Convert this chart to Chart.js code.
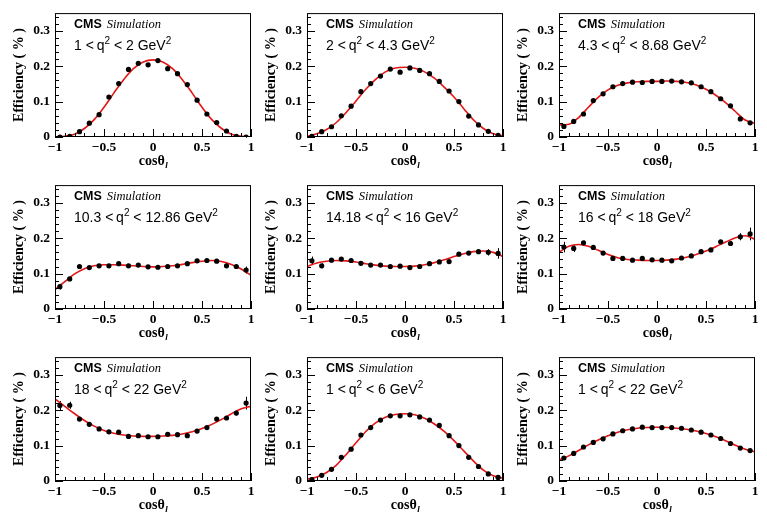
<!DOCTYPE html>
<html>
<head>
<meta charset="utf-8">
<script src="https://cdn.jsdelivr.net/npm/chart.js@4.4.1/dist/chart.umd.min.js"></script>
<style>
body { margin: 0; background: #fff; }
#wrap { position: relative; width: 767px; height: 513px; overflow: hidden; background: #fff; }
#wrap canvas { position: absolute; }
</style>
</head>
<body>
<div id="wrap"></div>
<script>
const binCenters = [-0.95, -0.85, -0.75, -0.65, -0.55, -0.45, -0.35, -0.25, -0.15, -0.05,
                    0.05, 0.15, 0.25, 0.35, 0.45, 0.55, 0.65, 0.75, 0.85, 0.95];
const fitX = [-1, -0.9, -0.8, -0.7, -0.6, -0.5, -0.4, -0.3, -0.2, -0.1, 0,
              0.1, 0.2, 0.3, 0.4, 0.5, 0.6, 0.7, 0.8, 0.9, 1];
const xTicks = [-1, -0.5, 0, 0.5, 1];
const yTicks = [0, 0.1, 0.2, 0.3];
const qLow = ["1", "2", "4.3", "10.3", "14.18", "16", "18", "1", "1"];
const qHigh = ["2", "4.3", "8.68", "12.86", "16", "18", "22", "6", "22"];

// 1 < q2 < 2
const eff1 = [0.000, 0.002, 0.015, 0.039, 0.063, 0.113, 0.151, 0.191, 0.208, 0.204, 0.216, 0.193, 0.179, 0.148, 0.104, 0.065, 0.041, 0.017, 0.002, 0.000];
const err1 = [0.002, 0.002, 0.003, 0.003, 0.003, 0.003, 0.003, 0.003, 0.003, 0.003, 0.003, 0.003, 0.003, 0.003, 0.003, 0.003, 0.003, 0.003, 0.002, 0.002];
const fit1 = [0.000, 0.002, 0.008, 0.024, 0.049, 0.084, 0.124, 0.162, 0.193, 0.212, 0.218, 0.212, 0.193, 0.162, 0.124, 0.084, 0.049, 0.024, 0.008, 0.002, 0.000];
// 2 < q2 < 4.3
const eff2 = [0.002, 0.015, 0.029, 0.060, 0.087, 0.128, 0.151, 0.172, 0.192, 0.183, 0.195, 0.188, 0.179, 0.157, 0.130, 0.100, 0.059, 0.034, 0.016, 0.005];
const err2 = [0.002, 0.002, 0.003, 0.003, 0.003, 0.003, 0.003, 0.003, 0.003, 0.003, 0.003, 0.003, 0.003, 0.003, 0.003, 0.003, 0.003, 0.003, 0.002, 0.002];
const fit2 = [0.002, 0.009, 0.021, 0.041, 0.069, 0.102, 0.135, 0.163, 0.184, 0.195, 0.197, 0.194, 0.184, 0.166, 0.141, 0.113, 0.080, 0.048, 0.024, 0.009, 0.003];
// 4.3 < q2 < 8.68
const eff3 = [0.030, 0.044, 0.065, 0.103, 0.122, 0.142, 0.151, 0.155, 0.154, 0.157, 0.157, 0.158, 0.156, 0.153, 0.142, 0.128, 0.108, 0.088, 0.051, 0.040];
const err3 = [0.003, 0.003, 0.003, 0.003, 0.003, 0.003, 0.003, 0.003, 0.003, 0.003, 0.003, 0.003, 0.003, 0.003, 0.003, 0.003, 0.003, 0.003, 0.003, 0.003];
const fit3 = [0.034, 0.036, 0.055, 0.084, 0.112, 0.133, 0.146, 0.153, 0.156, 0.157, 0.157, 0.158, 0.157, 0.154, 0.147, 0.135, 0.118, 0.097, 0.072, 0.048, 0.038];
// 10.3 < q2 < 12.86
const eff4 = [0.063, 0.085, 0.120, 0.117, 0.122, 0.122, 0.128, 0.122, 0.124, 0.119, 0.118, 0.120, 0.122, 0.128, 0.136, 0.137, 0.135, 0.122, 0.120, 0.110];
const err4 = [0.008, 0.004, 0.003, 0.003, 0.003, 0.003, 0.003, 0.003, 0.003, 0.003, 0.003, 0.003, 0.003, 0.003, 0.003, 0.003, 0.003, 0.004, 0.005, 0.010];
const fit4 = [0.055, 0.077, 0.099, 0.114, 0.122, 0.125, 0.125, 0.124, 0.122, 0.120, 0.119, 0.120, 0.122, 0.126, 0.131, 0.135, 0.137, 0.134, 0.126, 0.113, 0.095];
// 14.18 < q2 < 16
const eff5 = [0.136, 0.122, 0.138, 0.141, 0.137, 0.129, 0.124, 0.124, 0.120, 0.121, 0.117, 0.120, 0.128, 0.133, 0.134, 0.155, 0.158, 0.162, 0.160, 0.157];
const err5 = [0.012, 0.007, 0.004, 0.004, 0.003, 0.003, 0.003, 0.003, 0.003, 0.003, 0.003, 0.003, 0.003, 0.003, 0.004, 0.004, 0.004, 0.005, 0.009, 0.015];
const fit5 = [0.120, 0.130, 0.135, 0.137, 0.136, 0.133, 0.128, 0.124, 0.121, 0.120, 0.120, 0.121, 0.125, 0.131, 0.139, 0.148, 0.156, 0.162, 0.164, 0.160, 0.148];
// 16 < q2 < 18
const eff6 = [0.175, 0.171, 0.187, 0.174, 0.158, 0.143, 0.143, 0.138, 0.143, 0.139, 0.138, 0.136, 0.144, 0.150, 0.162, 0.167, 0.190, 0.185, 0.204, 0.212];
const err6 = [0.015, 0.010, 0.006, 0.004, 0.003, 0.003, 0.003, 0.003, 0.003, 0.003, 0.003, 0.003, 0.003, 0.003, 0.003, 0.004, 0.004, 0.006, 0.010, 0.018];
const fit6 = [0.160, 0.177, 0.182, 0.177, 0.166, 0.154, 0.145, 0.140, 0.138, 0.137, 0.137, 0.138, 0.141, 0.146, 0.154, 0.164, 0.176, 0.189, 0.201, 0.207, 0.197];
// 18 < q2 < 22
const eff7 = [0.213, 0.214, 0.175, 0.160, 0.147, 0.139, 0.138, 0.126, 0.128, 0.125, 0.125, 0.132, 0.131, 0.128, 0.141, 0.151, 0.175, 0.178, 0.192, 0.220];
const err7 = [0.013, 0.010, 0.005, 0.004, 0.003, 0.003, 0.003, 0.003, 0.003, 0.003, 0.003, 0.003, 0.003, 0.003, 0.003, 0.003, 0.004, 0.005, 0.007, 0.018];
const fit7 = [0.232, 0.211, 0.190, 0.171, 0.155, 0.143, 0.135, 0.130, 0.127, 0.126, 0.126, 0.127, 0.129, 0.133, 0.139, 0.148, 0.160, 0.174, 0.190, 0.204, 0.211];
// 1 < q2 < 6
const eff8 = [0.004, 0.016, 0.033, 0.067, 0.090, 0.130, 0.151, 0.172, 0.184, 0.184, 0.187, 0.181, 0.172, 0.157, 0.128, 0.100, 0.067, 0.041, 0.020, 0.010];
const err8 = [0.002, 0.002, 0.002, 0.002, 0.002, 0.002, 0.002, 0.002, 0.002, 0.002, 0.002, 0.002, 0.002, 0.002, 0.002, 0.002, 0.002, 0.002, 0.002, 0.002];
const fit8 = [0.005, 0.011, 0.024, 0.045, 0.075, 0.108, 0.140, 0.164, 0.180, 0.188, 0.190, 0.187, 0.177, 0.161, 0.140, 0.114, 0.085, 0.056, 0.031, 0.015, 0.008];
// 1 < q2 < 22
const eff9 = [0.065, 0.078, 0.096, 0.109, 0.119, 0.133, 0.142, 0.147, 0.152, 0.151, 0.151, 0.151, 0.149, 0.144, 0.138, 0.130, 0.120, 0.106, 0.093, 0.086];
const err9 = [0.002, 0.002, 0.002, 0.002, 0.002, 0.002, 0.002, 0.002, 0.002, 0.002, 0.002, 0.002, 0.002, 0.002, 0.002, 0.002, 0.002, 0.002, 0.002, 0.002];
const fit9 = [0.060, 0.071, 0.086, 0.102, 0.116, 0.128, 0.138, 0.145, 0.149, 0.151, 0.152, 0.151, 0.149, 0.146, 0.141, 0.134, 0.125, 0.114, 0.101, 0.090, 0.082];

const effs = [eff1, eff2, eff3, eff4, eff5, eff6, eff7, eff8, eff9];
const errs = [err1, err2, err3, err4, err5, err6, err7, err8, err9];
const fits = [fit1, fit2, fit3, fit4, fit5, fit6, fit7, fit8, fit9];

const SERIF = "'Liberation Serif', 'Times New Roman', serif";
const SANS = "'Liberation Sans', Arial, sans-serif";
const wrap = document.getElementById("wrap");

function fmt(v) {
    let s = String(Math.round(v * 100) / 100);
    return s.replace("-", "\u2212");
}

// draws a run of text pieces, some of them as superscript
function drawRich(ctx, parts, x, y, size) {
    for (let p of parts) {
        if (p.sup) {
            ctx.font = Math.round(size * 0.7) + "px " + SANS;
            ctx.fillText(p.t, x, y - size * 0.42);
        } else {
            ctx.font = size + "px " + SANS;
            ctx.fillText(p.t, x, y);
        }
        x += ctx.measureText(p.t).width;
    }
}

function addPanel(i) {
    let col = i % 3;
    let row = Math.floor(i / 3);
    let canvas = document.createElement("canvas");
    canvas.width = 262;
    canvas.height = 172;
    canvas.style.left = (252 * col) + "px";
    canvas.style.top = (172 * row) + "px";
    wrap.appendChild(canvas);

    let points = binCenters.map((x, k) => ({ x: x, y: effs[i][k] }));
    let curve = fitX.map((x, k) => ({ x: x, y: fits[i][k] }));

    // error bars under the markers
    let errorBars = {
        id: "errorBars" + i,
        beforeDatasetsDraw(chart) {
            let ctx = chart.ctx;
            let xs = chart.scales.x, ys = chart.scales.y;
            ctx.save();
            ctx.strokeStyle = "#000";
            ctx.lineWidth = 1;
            binCenters.forEach((x, k) => {
                let px = Math.round(xs.getPixelForValue(x)) + 0.5;
                ctx.beginPath();
                ctx.moveTo(px, ys.getPixelForValue(effs[i][k] - errs[i][k]));
                ctx.lineTo(px, ys.getPixelForValue(effs[i][k] + errs[i][k]));
                ctx.stroke();
            });
            ctx.restore();
        }
    };

    // frame, inside ticks and all the texts
    let decor = {
        id: "decor" + i,
        afterDraw(chart) {
            let ctx = chart.ctx;
            let a = chart.chartArea;
            let xs = chart.scales.x, ys = chart.scales.y;
            ctx.save();
            ctx.strokeStyle = "#000";
            ctx.lineWidth = 1;
            ctx.strokeRect(a.left + 0.5, a.top + 0.5, a.right - a.left - 1, a.bottom - a.top - 1);
            ctx.beginPath();
            for (let k = 0; k <= 17; k++) {
                let py = Math.round(ys.getPixelForValue(k * 0.02)) + 0.5;
                let len = (k % 5 == 0) ? 8 : 4;
                ctx.moveTo(a.left, py);
                ctx.lineTo(a.left + len, py);
            }
            for (let k = 0; k <= 20; k++) {
                let px = Math.round(xs.getPixelForValue(-1 + k * 0.1)) + 0.5;
                let len = (k % 5 == 0) ? 8 : 4;
                ctx.moveTo(px, a.bottom);
                ctx.lineTo(px, a.bottom - len);
            }
            ctx.stroke();

            ctx.fillStyle = "#000";
            ctx.textAlign = "left";
            ctx.textBaseline = "alphabetic";
            // CMS Simulation
            ctx.font = "bold 12.5px " + SANS;
            ctx.fillText("CMS", a.left + 19, a.top + 15);
            let w = ctx.measureText("CMS").width;
            ctx.font = "italic 12.5px " + SERIF;
            ctx.fillText("Simulation", a.left + 19 + w + 5, a.top + 15);
            // q2 range
            drawRich(ctx, [
                { t: qLow[i] + " <\u2009q" }, { t: "2", sup: true },
                { t: " < " + qHigh[i] + " GeV" }, { t: "2", sup: true }
            ], a.left + 19, a.top + 36.5, 14);

            // x title
            ctx.font = "bold 14px " + SERIF;
            let w1 = ctx.measureText("cos\u03b8").width;
            ctx.font = "italic bold 9px " + SERIF;
            let w2 = ctx.measureText("l").width;
            let x0 = (a.left + a.right) / 2 - (w1 + w2) / 2;
            ctx.font = "bold 14px " + SERIF;
            ctx.fillText("cos\u03b8", x0, a.bottom + 28);
            ctx.font = "italic bold 9px " + SERIF;
            ctx.fillText("l", x0 + w1 + 0.5, a.bottom + 31);

            // y title
            ctx.translate(a.left - 32, (a.top + a.bottom) / 2);
            ctx.rotate(-Math.PI / 2);
            ctx.textAlign = "center";
            ctx.font = "bold 14px " + SERIF;
            ctx.fillText("Efficiency ( % )", 0, 0);
            ctx.restore();
        }
    };

    new Chart(canvas, {
        type: "scatter",
        data: {
            datasets: [
                {
                    type: "scatter",
                    data: points,
                    pointRadius: 2.6,
                    pointBackgroundColor: "#000",
                    pointBorderWidth: 0,
                    order: 0
                },
                {
                    type: "line",
                    data: curve,
                    borderColor: "rgb(228, 22, 22)",
                    borderWidth: 1.6,
                    pointRadius: 0,
                    fill: false,
                    cubicInterpolationMode: "monotone",
                    order: 1
                }
            ]
        },
        options: {
            responsive: false,
            animation: false,
            devicePixelRatio: 1,
            layout: { padding: { top: 5, right: 11, left: 0, bottom: 0 } },
            plugins: { legend: { display: false }, tooltip: { enabled: false } },
            scales: {
                x: {
                    type: "linear",
                    min: -1,
                    max: 1,
                    afterBuildTicks: s => { s.ticks = xTicks.map(v => ({ value: v })); },
                    afterFit: s => { s.height = 35; },
                    grid: { display: false, drawTicks: false },
                    border: { display: false },
                    ticks: {
                        color: "#000",
                        padding: 2,
                        maxRotation: 0,
                        autoSkip: false,
                        font: { family: SERIF, weight: "bold", size: 13.5 },
                        callback: v => fmt(v)
                    }
                },
                y: {
                    type: "linear",
                    min: 0,
                    max: 0.35,
                    afterBuildTicks: s => { s.ticks = yTicks.map(v => ({ value: v })); },
                    afterFit: s => { s.width = 55; },
                    grid: { display: false, drawTicks: false },
                    border: { display: false },
                    ticks: {
                        color: "#000",
                        padding: 5,
                        font: { family: SERIF, weight: "bold", size: 13.5 },
                        callback: v => fmt(v)
                    }
                }
            }
        },
        plugins: [errorBars, decor]
    });
}

for (let i = 0; i < 9; i++) {
    addPanel(i);
}
</script>
</body>
</html>
